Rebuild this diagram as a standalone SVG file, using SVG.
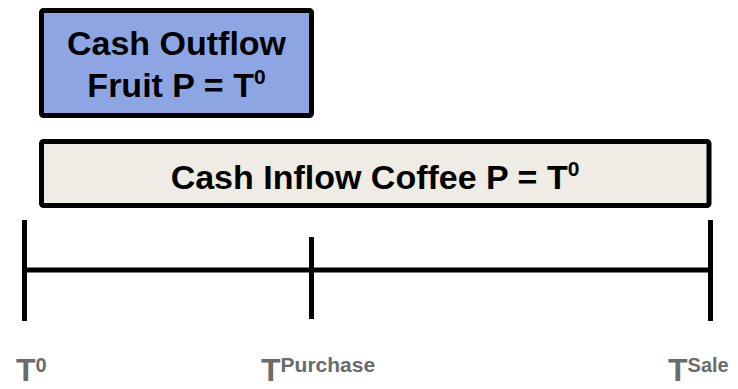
<svg xmlns="http://www.w3.org/2000/svg" width="738" height="389" viewBox="0 0 738 389">
<style>
.box{stroke:#000;stroke-width:5;}
.t{font-family:"Liberation Sans",Arial,sans-serif;font-weight:bold;fill:#000;}
.lbl{font-family:"Liberation Sans",Arial,sans-serif;font-weight:bold;fill:#6b6b6b;}
.ln{stroke:#000;stroke-width:5;fill:none;}
</style>
<rect width="738" height="389" fill="#fff"/>
<g id="outflow">
<rect class="box" x="41.5" y="10.5" width="270" height="105" rx="2" fill="#8ea5e3"/>
<text class="t" x="176.5" y="55" font-size="34" text-anchor="middle">Cash Outflow</text>
<text class="t" x="176.5" y="97" font-size="34" text-anchor="middle">Fruit P = T<tspan font-size="21" dy="-13">0</tspan></text>
</g>
<g id="inflow">
<rect class="box" x="41.5" y="141.5" width="667.5" height="64" rx="2" fill="#eeece4"/>
<text class="t" x="375" y="189" font-size="34" text-anchor="middle">Cash Inflow Coffee P = T<tspan font-size="21" dy="-13">0</tspan></text>
</g>
<g id="connectors">
<line class="ln" x1="24.5" y1="270" x2="710.5" y2="270"/>
<line class="ln" x1="24.5" y1="220" x2="24.5" y2="321"/>
<line class="ln" x1="311.5" y1="237" x2="311.5" y2="319"/>
<line class="ln" x1="710.5" y1="220" x2="710.5" y2="321"/>
</g>
<g id="t0">
<text class="lbl" x="16" y="381" font-size="32">T<tspan font-size="20" dy="-9">0</tspan></text>
</g>
<g id="tpurchase">
<text class="lbl" x="261" y="381" font-size="32">T<tspan font-size="21" dy="-9">Purchase</tspan></text>
</g>
<g id="tsale">
<text class="lbl" x="668" y="381" font-size="32">T<tspan font-size="20" dy="-9">Sale</tspan></text>
</g>
</svg>
